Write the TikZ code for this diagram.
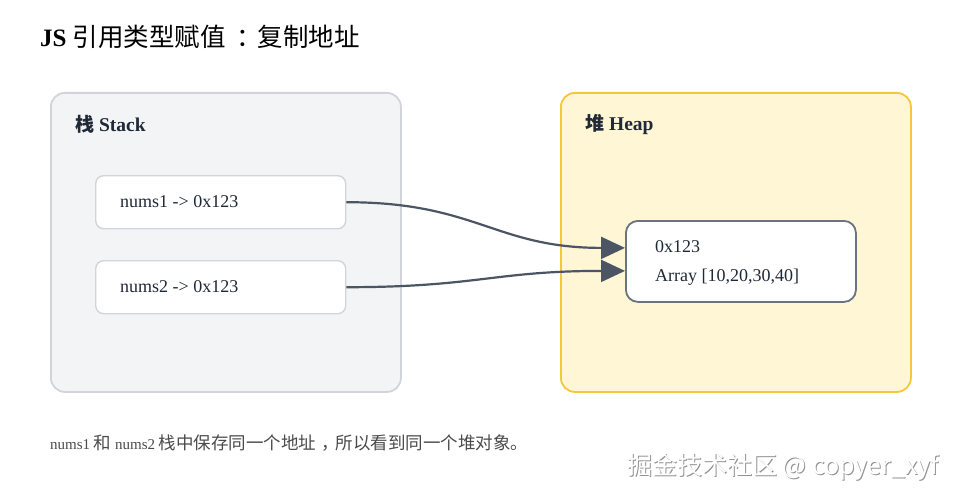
\documentclass[tikz,border=0pt]{standalone}
\usepackage{fontspec}
\setmainfont{Liberation Serif}
\newfontfamily\cjk{Noto Sans CJK SC}
\newcommand\cjkat[2]{{\cjk\fontsize{#1}{#1}\selectfont #2}}
\usetikzlibrary{arrows.meta}
\definecolor{stackfill}{HTML}{F3F4F6}
\definecolor{stackline}{HTML}{D1D5DB}
\definecolor{heapfill}{HTML}{FEF6D5}
\definecolor{heapline}{HTML}{F5C83A}
\definecolor{objline}{HTML}{6B7280}
\definecolor{arrowcol}{HTML}{4B5563}
\definecolor{textcol}{HTML}{1F2937}
\definecolor{footcol}{HTML}{4B4B4B}
\tikzset{
  area/.style={draw, line width=1.8pt, rounded corners=14pt, anchor=north west, inner sep=0pt},
  stackarea/.style={area, fill=stackfill, draw=stackline, minimum width=350pt, minimum height=299pt},
  heaparea/.style={area, fill=heapfill, draw=heapline, minimum width=350pt, minimum height=299pt},
  areatitle/.style={anchor=west, inner sep=0pt, font=\fontsize{19.5}{23}\selectfont\bfseries, text=textcol},
  slot/.style={draw=stackline, fill=white, line width=1.4pt, rounded corners=8pt, anchor=north west,
    minimum width=250pt, minimum height=53pt, inner sep=0pt},
  obj/.style={draw=objline, fill=white, line width=1.8pt, rounded corners=12pt, anchor=north west,
    minimum width=230pt, minimum height=81pt, inner sep=0pt},
  label/.style={anchor=west, inner sep=0pt, font=\fontsize{18}{21}\selectfont, text=textcol},
  ref/.style={draw=arrowcol, line width=2.2pt, -{Triangle[length=24pt,width=22pt]}},
}
\begin{document}
\begin{tikzpicture}[x=1pt,y=-1pt]
\useasboundingbox[fill=white] (0,0) rectangle (960,500);
% title
\node[anchor=west, inner sep=0pt, font=\fontsize{25}{28}\selectfont, text=black] (title) at (40,37)
  {\textbf{JS} \cjkat{25.5}{引用类型赋值\kern0.4em：\kern-0.15em复制地址}};
% areas
\node[stackarea] (stack) at (50,92) {};
\node[heaparea] (heap) at (560,92) {};
\node[areatitle] (stacklbl) at (75,124) {\cjkat{19}{栈} Stack};
\node[areatitle] (heaplbl) at (585,124) {\cjkat{19}{堆} Heap};
% stack slots
\node[slot] (s1) at (95,175) {};
\node[slot] (s2) at (95,260) {};
\node[label] (s1t) at (120,202) {nums1 -> 0x123};
\node[label] (s2t) at (120,287) {nums2 -> 0x123};
% heap object
\node[obj] (obj) at (625,220) {};
\node[label] (objaddr) at (655,247) {0x123};
\node[label] (objval) at (655,277) {Array [10,20,30,40]};
% references
\draw[ref] (s1.east) .. controls +(130,0) and +(-130,0) .. ([yshift=13.5pt]obj.west);
\draw[ref] (s2.east) .. controls +(130,0) and +(-130,0) .. ([yshift=-9.5pt]obj.west);
% footer
\node[anchor=west, inner sep=0pt, font=\fontsize{15}{18}\selectfont, text=footcol] (foot) at (50,443)
  {nums1 \cjkat{17.5}{和} nums2 \cjkat{17.5}{栈中保存同一个地址\kern0.3em，\kern-0.2em所以看到同一个堆对象。}};
% watermark
\node[anchor=west, inner sep=0pt, text=gray!85] (wmshadow) at (628,468)
  {\cjkat{25}{掘金技术社区 @ copyer\_xyf}};
\node[anchor=west, inner sep=0pt, text=white] (wm) at (627,467)
  {\cjkat{25}{掘金技术社区 @ copyer\_xyf}};
\end{tikzpicture}
\end{document}
